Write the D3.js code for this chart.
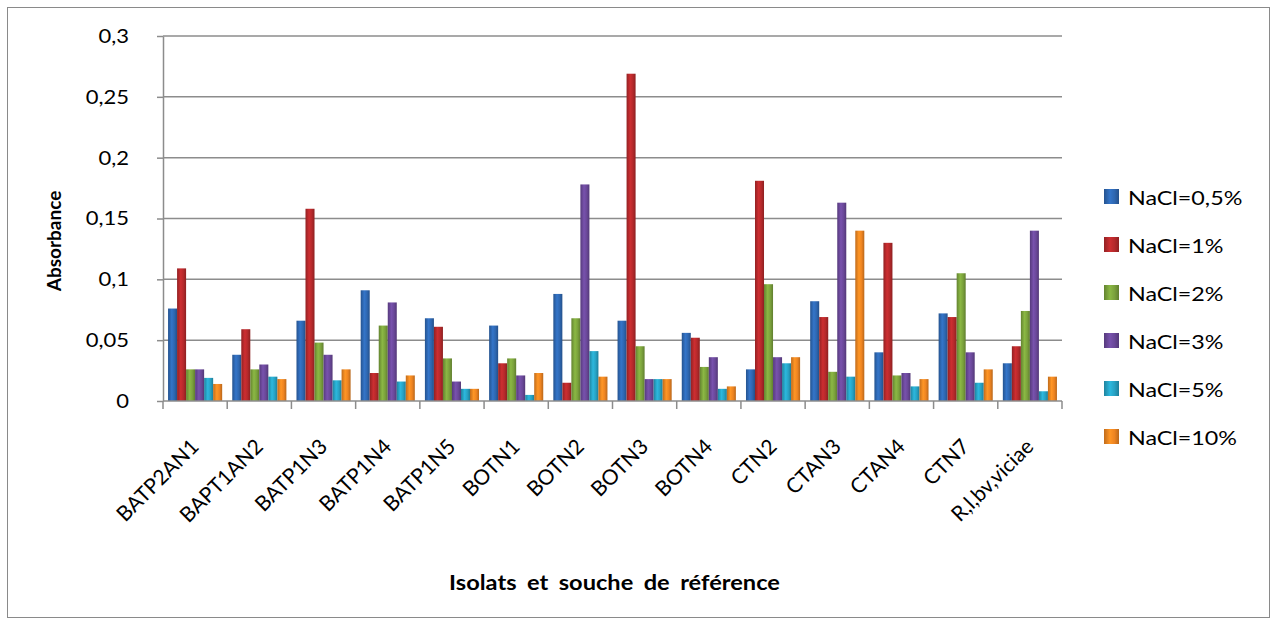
<!DOCTYPE html>
<html>
<head>
<meta charset="utf-8">
<script src="https://cdn.jsdelivr.net/npm/d3@7"></script>
<style>
  body { margin: 0; background: #fff; }
  svg { display: block; font-family: Lato, "Liberation Sans", sans-serif; }
</style>
</head>
<body>
<svg id="chart" width="1277" height="625"></svg>
<script>
const categories = ['BATP2AN1', 'BAPT1AN2', 'BATP1N3', 'BATP1N4', 'BATP1N5', 'BOTN1', 'BOTN2',
  'BOTN3', 'BOTN4', 'CTN2', 'CTAN3', 'CTAN4', 'CTN7', 'R,l,bv,viciae'];
const seriesNames = ['NaCl=0,5%', 'NaCl=1%', 'NaCl=2%', 'NaCl=3%', 'NaCl=5%', 'NaCl=10%'];
const nacl05 = [0.076, 0.038, 0.066, 0.091, 0.068, 0.062, 0.088, 0.066, 0.056, 0.026, 0.082, 0.040, 0.072, 0.031];
const nacl1 = [0.109, 0.059, 0.158, 0.023, 0.061, 0.031, 0.015, 0.269, 0.052, 0.181, 0.069, 0.130, 0.069, 0.045];
const nacl2 = [0.026, 0.026, 0.048, 0.062, 0.035, 0.035, 0.068, 0.045, 0.028, 0.096, 0.024, 0.021, 0.105, 0.074];
const nacl3 = [0.026, 0.030, 0.038, 0.081, 0.016, 0.021, 0.178, 0.018, 0.036, 0.036, 0.163, 0.023, 0.040, 0.140];
const nacl5 = [0.019, 0.020, 0.017, 0.016, 0.010, 0.005, 0.041, 0.018, 0.010, 0.031, 0.020, 0.012, 0.015, 0.008];
const nacl10 = [0.014, 0.018, 0.026, 0.021, 0.010, 0.023, 0.020, 0.018, 0.012, 0.036, 0.140, 0.018, 0.026, 0.020];
const yTicks = [0, 0.05, 0.1, 0.15, 0.2, 0.25, 0.3];
const colors = ['#2e67b1', '#b5292b', '#7ba23c', '#6a4899', '#27a2c4', '#ee8421'];

const seriesValues = [nacl05, nacl1, nacl2, nacl3, nacl5, nacl10];

const svg = d3.select('#chart');
const plot = { left: 163, right: 1062, top: 36, bottom: 401 };

// the source picture is a bit wider than tall, so horizontal text gets stretched
const stretch = (sel, k) => sel.each(function () {
  const w = this.getComputedTextLength();
  d3.select(this).attr('textLength', w * k).attr('lengthAdjust', 'spacingAndGlyphs');
});

// outer frame
svg.append('rect')
  .attr('x', 7.5).attr('y', 7.5)
  .attr('width', 1262).attr('height', 610)
  .attr('fill', '#fff').attr('stroke', '#8a8a8a').attr('stroke-width', 1);

// gradients for the shaded bars
const defs = svg.append('defs');
colors.forEach((c, i) => {
  const g = defs.append('linearGradient').attr('id', 'grad' + i)
    .attr('x1', 0).attr('x2', 1).attr('y1', 0).attr('y2', 0);
  const base = d3.color(c);
  g.append('stop').attr('offset', '0%').attr('stop-color', base.darker(0.6));
  g.append('stop').attr('offset', '40%').attr('stop-color', base.brighter(0.35));
  g.append('stop').attr('offset', '70%').attr('stop-color', base);
  g.append('stop').attr('offset', '100%').attr('stop-color', base.darker(0.7));
});

const x0 = d3.scaleBand().domain(categories).range([plot.left, plot.right]).padding(0);
const x1 = d3.scaleBand().domain(seriesNames).range([0, x0.bandwidth()])
  .paddingInner(0).paddingOuter(0.56);
const y = d3.scaleLinear().domain([0, 0.3]).range([plot.bottom, plot.top]);

const locale = d3.formatLocale({ decimal: ',', thousands: ' ', grouping: [3], currency: ['', ''] });
const fmt = locale.format('.2~f');

// gridlines
svg.append('g')
  .selectAll('line')
  .data(yTicks.filter(d => d > 0))
  .join('line')
  .attr('x1', plot.left).attr('x2', plot.right)
  .attr('y1', d => y(d)).attr('y2', d => y(d))
  .attr('stroke', '#8c8c8c').attr('stroke-width', 1.5);

// y axis
const yAxis = svg.append('g')
  .attr('transform', `translate(${plot.left},0)`)
  .call(d3.axisLeft(y).tickValues(yTicks).tickFormat(fmt).tickSize(6).tickSizeOuter(0).tickPadding(28));
yAxis.select('.domain').attr('stroke', '#8c8c8c').attr('stroke-width', 1.5);
yAxis.selectAll('.tick line').attr('stroke', '#8c8c8c').attr('stroke-width', 1.5);
yAxis.selectAll('.tick text').attr('font-size', 20).attr('fill', '#000')
  .attr('font-family', 'Lato, sans-serif')
  .call(stretch, 1.1);

// bars
const rows = categories.map((c, i) => ({ cat: c, vals: seriesNames.map((s, j) => ({ s, j, v: seriesValues[j][i] })) }));
svg.append('g')
  .selectAll('g')
  .data(rows)
  .join('g')
  .attr('transform', d => `translate(${x0(d.cat)},0)`)
  .selectAll('rect')
  .data(d => d.vals)
  .join('rect')
  .attr('x', d => x1(d.s))
  .attr('y', d => y(d.v))
  .attr('width', x1.bandwidth())
  .attr('height', d => y(0) - y(d.v))
  .attr('fill', d => `url(#grad${d.j})`);

// x axis line and ticks at category boundaries
const xAxis = svg.append('g');
xAxis.append('line')
  .attr('x1', plot.left).attr('x2', plot.right)
  .attr('y1', plot.bottom).attr('y2', plot.bottom)
  .attr('stroke', '#8c8c8c').attr('stroke-width', 1.5);
xAxis.selectAll('line.tick')
  .data(categories.concat(['end']))
  .join('line')
  .attr('class', 'tick')
  .attr('x1', (d, i) => i < categories.length ? x0(d) : plot.right)
  .attr('x2', (d, i) => i < categories.length ? x0(d) : plot.right)
  .attr('y1', plot.bottom).attr('y2', plot.bottom + 8)
  .attr('stroke', '#8c8c8c').attr('stroke-width', 1.5);
xAxis.selectAll('text')
  .data(categories)
  .join('text')
  .attr('transform', d => `translate(${x0(d) + x0.bandwidth() / 2 + 5},${plot.bottom + 47}) rotate(-45)`)
  .attr('text-anchor', 'end')
  .attr('font-size', 21)
  .attr('fill', '#000')
  .text(d => d);

// axis titles
svg.append('text')
  .attr('x', (plot.left + plot.right) / 2 + 2).attr('y', 590)
  .attr('text-anchor', 'middle')
  .attr('font-size', 20).attr('font-weight', 'bold')
  .attr('word-spacing', 4)
  .text('Isolats et souche de référence')
  .call(stretch, 1.18);

svg.append('text')
  .attr('transform', 'translate(61,241) rotate(-90)')
  .attr('text-anchor', 'middle')
  .attr('font-size', 19).attr('font-weight', 'bold')
  .text('Absorbance');

// legend
const legend = svg.append('g')
  .selectAll('g')
  .data(seriesNames)
  .join('g')
  .attr('transform', (d, i) => `translate(1104,${197 + i * 48})`);
legend.append('rect')
  .attr('x', 0).attr('y', -8)
  .attr('width', 15).attr('height', 15)
  .attr('fill', (d, i) => `url(#grad${i})`);
legend.append('text')
  .attr('x', 24).attr('y', 7.5)
  .attr('font-size', 20)
  .attr('fill', '#000')
  .text(d => d)
  .call(stretch, 1.165);
</script>
</body>
</html>
